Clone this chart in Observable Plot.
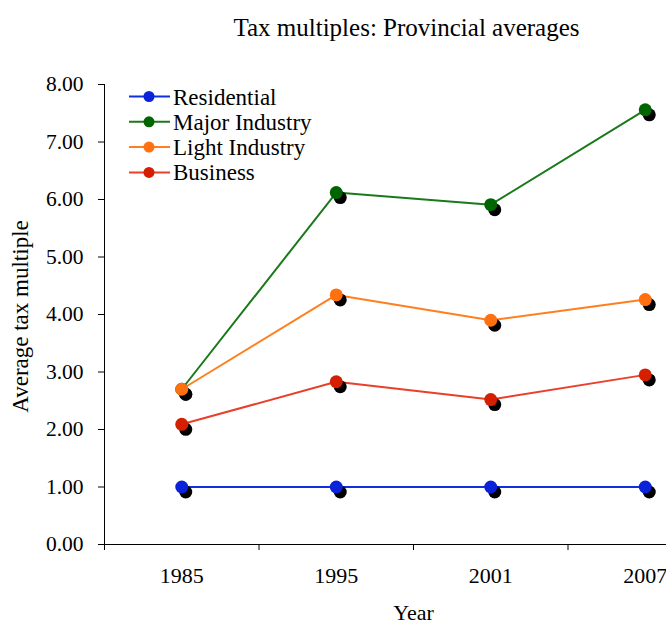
<!DOCTYPE html>
<html>
<head>
<meta charset="utf-8">
<script src="https://cdn.jsdelivr.net/npm/d3@7"></script>
<script src="https://cdn.jsdelivr.net/npm/@observablehq/plot@0.6"></script>
<style>
  html, body { margin: 0; padding: 0; background: #fff; }
  #wrap { width: 666px; height: 626px; overflow: hidden; position: relative; }
</style>
</head>
<body>
<div id="wrap"></div>
<script>
const title = "Tax multiples: Provincial averages";
const years = ["1985", "1995", "2001", "2007"];
const seriesNames = ["Residential", "Major Industry", "Light Industry", "Business"];
const residential = [1.00, 1.00, 1.00, 1.00];
const majorIndustry = [2.70, 6.12, 5.91, 7.56];
const lightIndustry = [2.70, 4.34, 3.90, 4.26];
const business = [2.09, 2.83, 2.52, 2.95];
const yTicks = [0, 1, 2, 3, 4, 5, 6, 7, 8];
const lineColors = ["#1030e0", "#1a7a1a", "#ff7f20", "#e8402a"];
const dotColors = ["#0a22d8", "#006400", "#ff7010", "#d42000"];

const seriesValues = [residential, majorIndustry, lightIndustry, business];
const rows = [];
seriesNames.forEach((s, si) => {
  seriesValues[si].forEach((v, i) => rows.push({series: s, si, idx: i + 0.5, year: years[i], value: v}));
});
const yearRows = years.map((y, i) => ({year: y, idx: i + 0.5}));
const boundaries = d3.range(years.length + 1);

const serif = "Liberation Serif";
const marks = [
  Plot.ruleY([0], {stroke: "#000", strokeWidth: 1}),
  Plot.ruleX([0], {stroke: "#000", strokeWidth: 1}),
  Plot.axisY({ticks: yTicks, tickFormat: d => d.toFixed(2), tickSize: 6, tickPadding: 15, fontSize: 21.5, fontFamily: serif, label: null, stroke: "#000"}),
  Plot.axisX({ticks: boundaries, tickFormat: () => "", tickSize: 6, label: null, stroke: "#000"}),
  Plot.text(yearRows, {x: "idx", y: () => 0, text: "year", dy: 31, fontSize: 22, fontFamily: serif, fill: "#000"}),
  Plot.text(["Year"], {x: () => years.length / 2, y: () => 0, text: d => d, dy: 68, fontSize: 22, fontFamily: serif, fill: "#000"}),
  Plot.text(["Average tax multiple"], {x: () => 0, y: () => 4, text: d => d, rotate: -90, dx: -84, dy: 2, fontSize: 23, fontFamily: serif, fill: "#000"}),
  Plot.text([title], {x: () => years.length / 2, frameAnchor: "top", text: d => d, dx: -7, dy: -66, fontSize: 25, fontFamily: serif, fill: "#000"})
];
seriesNames.forEach((s, si) => {
  const data = rows.filter(r => r.si === si);
  marks.push(Plot.line(data, {x: "idx", y: "value", stroke: lineColors[si], strokeWidth: 2}));
  marks.push(Plot.dot(data, {x: "idx", y: "value", r: 6.5, fill: "#000", dx: 4, dy: 5}));
  marks.push(Plot.dot(data, {x: "idx", y: "value", r: 6.5, fill: dotColors[si]}));
});

const chart = Plot.plot({
  width: 666,
  height: 626,
  marginLeft: 104,
  marginTop: 84,
  marginBottom: 82,
  marginRight: 0,
  style: {fontFamily: serif, fontSize: "22px", background: "#fff", overflow: "hidden"},
  x: {type: "linear", domain: [0, years.length], range: [104, 722]},
  y: {domain: [0, 8], range: [544, 84]},
  marks
});
document.getElementById("wrap").appendChild(chart);

// Legend inside the plot area, top-left
const svg = d3.select(chart);
const lg = svg.append("g").attr("font-family", serif).attr("font-size", 23).attr("text-anchor", "start");
seriesNames.forEach((s, i) => {
  const cy = 96.5 + i * 25.3;
  lg.append("line").attr("x1", 129).attr("x2", 170).attr("y1", cy).attr("y2", cy)
    .attr("stroke", lineColors[i]).attr("stroke-width", 2);
  lg.append("circle").attr("cx", 149).attr("cy", cy).attr("r", 5.5).attr("fill", dotColors[i]);
  lg.append("text").attr("x", 173).attr("y", cy).attr("dy", "0.35em").attr("fill", "#000").text(s);
});
</script>
</body>
</html>
